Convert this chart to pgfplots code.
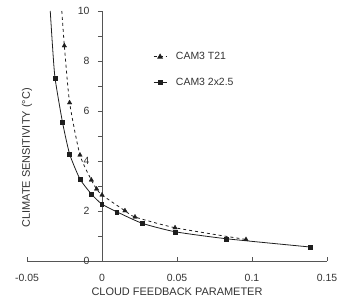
\documentclass[border=0pt]{standalone}
\usepackage{pgfplots}
\pgfplotsset{compat=1.18}
\usepackage{fontspec}
\setmainfont{Liberation Sans}
\definecolor{axisgray}{HTML}{555555}
\definecolor{curve}{HTML}{1E1E1E}

% CAM3 2x2.5: cloud feedback parameter vs. climate sensitivity
\pgfplotstableread{
x        s
-0.0345  10.0
-0.0330  8.60
-0.0313  7.31
-0.0264  5.57
-0.0216  4.28
-0.0147  3.28
-0.0071  2.68
-0.0002  2.28
 0.0098  1.97
 0.0267  1.51
 0.0487  1.17
 0.0829  0.89
 0.1387  0.56
}\tableFine
\pgfplotstableread{
x        s
-0.0313  7.31
-0.0264  5.57
-0.0216  4.28
-0.0147  3.28
-0.0071  2.68
-0.0002  2.28
 0.0098  1.97
 0.0267  1.51
 0.0487  1.17
 0.0829  0.89
 0.1387  0.56
}\tableFineMarks
% CAM3 T21
\pgfplotstableread{
x        s
-0.0268  10.0
-0.0251  8.61
-0.0216  6.33
-0.0147  4.24
-0.0071  3.24
-0.0036  2.88
 0.0000  2.64
 0.0153  2.01
 0.0220  1.76
 0.0487  1.33
 0.0960  0.86
}\tableCoarse
\pgfplotstableread{
x        s
-0.0251  8.61
-0.0216  6.33
-0.0147  4.24
-0.0071  3.24
-0.0036  2.88
 0.0000  2.64
 0.0153  2.01
 0.0220  1.76
 0.0487  1.33
 0.0960  0.86
}\tableCoarseMarks

\begin{document}
\begin{tikzpicture}
\path[use as bounding box] (-27bp,-36bp) rectangle (311bp,261bp);
\begin{axis}[
  scale only axis,
  width=300bp, height=250bp,
  xmin=-0.05, xmax=0.15, ymin=0, ymax=10,
  axis lines=middle,
  axis line style={axisgray, line width=0.9pt, -},
  hide obscured x ticks=false,
  hide obscured y ticks=false,
  xtick={-0.05,0,0.05,0.1,0.15},
  xticklabels={-0.05,0,0.05,0.1,0.15},
  ytick={0,2,4,6,8,10},
  yticklabels={0,2,4,6,8,10},
  minor ytick={1,3,5,7,9},
  major tick length=4bp, minor tick length=4bp,
  xtick align=inside, ytick align=outside,
  every tick/.style={axisgray, line width=0.8pt},
  minor tick style={axisgray, line width=0.8pt},
  tick label style={font=\fontsize{10.5}{12}\selectfont, text=black!80},
  xticklabel style={yshift=-10bp},
  yticklabel style={xshift=-5bp},
  xlabel={CLOUD FEEDBACK PARAMETER},
  ylabel={CLIMATE SENSITIVITY (°C)},
  every axis x label/.style={at={(rel axis cs:0.5,0)}, anchor=center, yshift=-31bp,
    font=\fontsize{11}{13}\selectfont, text=black!80},
  every axis y label/.style={at={(rel axis cs:0,0.5)}, anchor=center, rotate=90, xshift=-22bp,
    font=\fontsize{11}{13}\selectfont, text=black!80},
  legend style={at={(rel axis cs:0.42,0.843)}, anchor=north west, draw=none, fill=none,
    inner sep=0pt, row sep=13bp, font=\fontsize{10.5}{12}\selectfont, text=black!80,
    nodes={inner sep=2pt}},
  legend cell align=left,
  legend image code/.code={
    \draw[#1, mark=none] (0bp,0bp) -- (13bp,0bp);
    \draw[#1, solid] plot coordinates {(6.5bp,0bp)};
    \path (20bp,0bp);
  },
]
% legend entries
\addlegendimage{curve, dashed, line width=0.8pt, mark=triangle*, mark size=2.6pt, mark options={solid}}
\addlegendentry{CAM3 T21}
\addlegendimage{curve, solid, line width=0.8pt, mark=square*, mark size=2.0pt}
\addlegendentry{CAM3 2x2.5}
% curves
\addplot[curve, line width=0.8pt, smooth, tension=0.35, forget plot] table[x=x, y=s] {\tableFine};
\addplot[curve, line width=0.8pt, dashed, smooth, tension=0.35, forget plot] table[x=x, y=s] {\tableCoarse};
% markers
\addplot[only marks, curve, mark=square*, mark size=2.0pt, forget plot] table[x=x, y=s] {\tableFineMarks};
\addplot[only marks, curve, mark=triangle*, mark size=2.6pt, forget plot] table[x=x, y=s] {\tableCoarseMarks};
\end{axis}
\end{tikzpicture}
\end{document}
